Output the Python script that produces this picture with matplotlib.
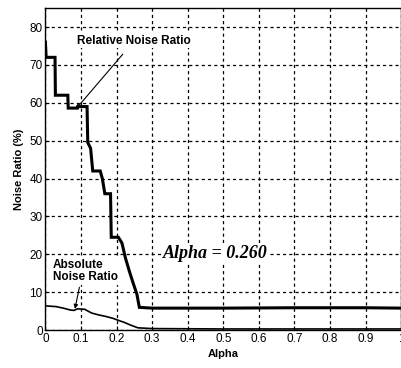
import matplotlib
matplotlib.use("Agg")
import matplotlib.pyplot as plt

# Relative noise ratio (step-like curve)
rel_x = [0.0, 0.002, 0.027, 0.028, 0.063, 0.064, 0.090, 0.091, 0.117, 0.119, 0.127, 0.133,
         0.154, 0.160, 0.167, 0.183, 0.185, 0.205, 0.215, 0.225, 0.236, 0.248, 0.257, 0.264,
         0.30, 0.50, 0.70, 0.90, 1.0]
rel_y = [76.0, 72.0, 72.0, 62.0, 62.0, 58.6, 58.6, 59.0, 59.0, 49.5, 48.0, 42.0,
         42.0, 40.0, 36.0, 36.0, 24.5, 24.5, 23.0, 19.0, 15.5, 12.0, 9.5, 6.0,
         5.8, 5.8, 5.9, 5.9, 5.8]

# Absolute noise ratio
abs_x = [0.0, 0.03, 0.05, 0.07, 0.08, 0.09, 0.11, 0.13, 0.15, 0.17, 0.19, 0.21,
         0.22, 0.24, 0.26, 0.30, 0.50, 0.70, 1.0]
abs_y = [6.4, 6.2, 5.8, 5.3, 5.2, 5.6, 5.5, 4.5, 4.0, 3.6, 3.1, 2.4,
         2.1, 1.3, 0.6, 0.4, 0.3, 0.3, 0.3]

xticks = [0, 0.1, 0.2, 0.3, 0.4, 0.5, 0.6, 0.7, 0.8, 0.9, 1]
xticklabels = ["0", "0.1", "0.2", "0.3", "0.4", "0.5", "0.6", "0.7", "0.8", "0.9", "1"]
yticks = [0, 10, 20, 30, 40, 50, 60, 70, 80]

plt.rcParams['font.family'] = ['Liberation Sans', 'DejaVu Sans']

fig = plt.figure(figsize=(4.02, 3.68), dpi=100)
ax = fig.add_axes([0.113, 0.103, 0.885, 0.875])

ax.plot(rel_x, rel_y, color='black', lw=2.2, solid_joinstyle='miter', zorder=3)
ax.plot(abs_x, abs_y, color='black', lw=1.2, zorder=3)

ax.set_xlim(0, 1)
ax.set_ylim(0, 85)
ax.set_xticks(xticks)
ax.set_xticklabels(xticklabels)
ax.set_yticks(yticks)
ax.tick_params(direction='in', length=3, labelsize=8.5, pad=2)
ax.grid(True, color='black', linestyle=(0, (2.5, 2.5)), linewidth=0.9)
for s in ax.spines.values():
    s.set_linewidth(1.0)

ax.set_xlabel("Alpha", fontsize=8, fontweight='bold', labelpad=3)
ax.set_ylabel("Noise Ratio (%)", fontsize=8, fontweight='bold', labelpad=4)

box = dict(boxstyle='square,pad=0.1', fc='white', ec='none')
ax.annotate("Relative Noise Ratio", xy=(0.086, 58.4), xytext=(0.25, 76.4),
            fontsize=8.5, fontweight='bold', ha='center', va='center', bbox=box,
            zorder=4,
            arrowprops=dict(arrowstyle='-|>', color='black', lw=0.8,
                            mutation_scale=6, shrinkA=6, shrinkB=0))
ax.annotate("Absolute\nNoise Ratio", xy=(0.083, 5.6), xytext=(0.021, 15.5),
            fontsize=8.5, fontweight='bold', ha='left', va='center', linespacing=1.0,
            bbox=box, zorder=4,
            arrowprops=dict(arrowstyle='-|>', color='black', lw=0.8,
                            mutation_scale=6, shrinkA=2, shrinkB=0,
                            relpos=(0.42, 0.0)))
ax.text(0.477, 20.1, "Alpha = 0.260", fontsize=13, fontweight='bold',
        fontstyle='italic', family=['Liberation Serif', 'DejaVu Serif'],
        ha='center', va='center', bbox=box, zorder=4)

fig.savefig("out.png", dpi=100)
